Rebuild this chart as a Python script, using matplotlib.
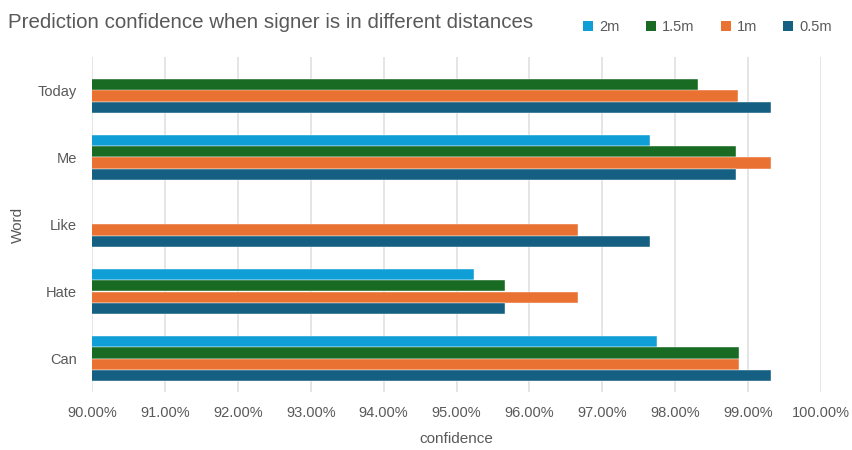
import matplotlib
matplotlib.use("Agg")
import matplotlib.pyplot as plt
import numpy as np
from matplotlib.patches import Patch

plt.rcParams['font.family'] = ['Liberation Sans', 'DejaVu Sans']

words = ["Can", "Hate", "Like", "Me", "Today"]
series_names = ["2m", "1.5m", "1m", "0.5m"]
colors = ["#0F9ED5", "#196B24", "#E97132", "#156082"]
vals_2m = [97.75, 95.24, 0.0, 97.66, 0.0]
vals_15m = [98.87, 95.66, 0.0, 98.83, 98.31]
vals_1m = [98.87, 96.66, 96.66, 99.31, 98.86]
vals_05m = [99.31, 95.66, 97.66, 98.83, 99.31]
series = [vals_2m, vals_15m, vals_1m, vals_05m]
xticks = [90, 91, 92, 93, 94, 95, 96, 97, 98, 99, 100]

fig = plt.figure(figsize=(8.53, 4.5), dpi=100)
ax = fig.add_axes([92/853, 1-392/450, (821-92)/853, (392-57)/450])

gray = "#595959"
y = np.arange(len(words))
n = len(series)
group_w = 0.675
bh = group_w / n
for i, (name, vals, c) in enumerate(zip(series_names, series, colors)):
    offs = group_w/2 - bh/2 - i*bh
    ax.barh(y + offs, vals, height=bh, color=c, label=name, zorder=3,
            edgecolor='white', linewidth=0.3)

ax.set_xlim(90, 100)
ax.set_ylim(-0.5, 4.5)
ax.set_xticks(xticks)
ax.set_xticklabels([f"{v:.2f}%" for v in xticks])
ax.set_yticks(y)
ax.set_yticklabels(words)
ax.grid(axis='x', color='#dedede', linewidth=1.1, zorder=0)
ax.set_axisbelow(True)
for s in ax.spines.values():
    s.set_visible(False)
ax.tick_params(axis='x', length=0, colors=gray, labelsize=10.5, pad=10)
ax.tick_params(axis='y', length=0, colors=gray, labelsize=10.5, pad=11)
ax.set_xlabel("confidence", color=gray, fontsize=11, labelpad=9)
ax.set_ylabel("Word", color=gray, fontsize=11, labelpad=9)

fig.text(8/853, 1-22/450, "Prediction confidence when signer is in different distances",
         color=gray, fontsize=14.8, va='center', ha='left')

handles = [Patch(facecolor=c, label=n) for n, c in zip(series_names, colors)]
fig.legend(handles=handles, loc='center left', bbox_to_anchor=(570/853, 1-27/450),
           ncol=4, frameon=False, fontsize=10.5, labelcolor=gray,
           handlelength=0.7, handleheight=0.7, handletextpad=0.4, columnspacing=1.8)

fig.savefig("out.png", dpi=100)
